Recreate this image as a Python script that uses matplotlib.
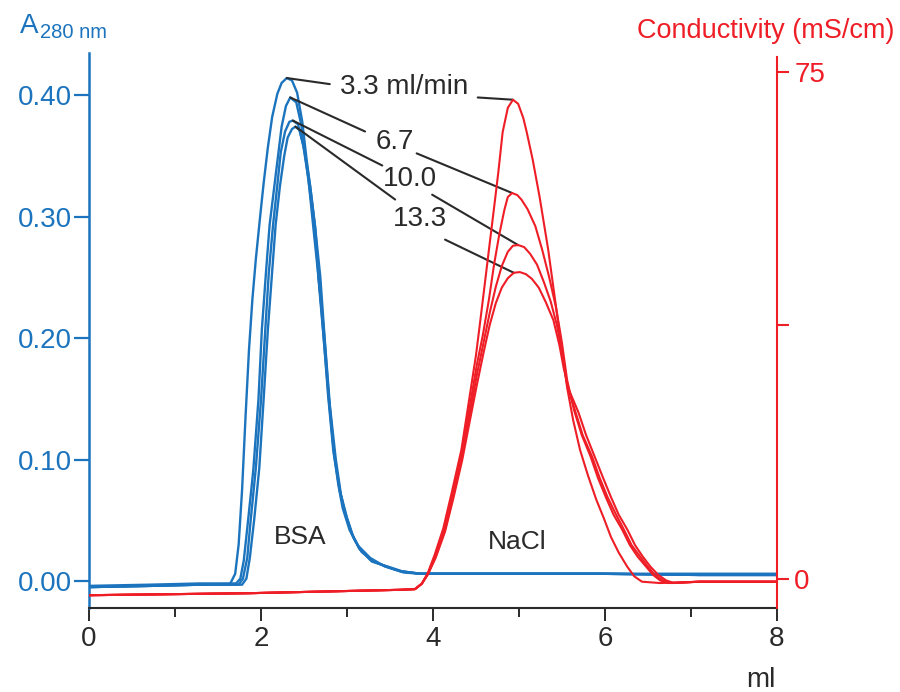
import numpy as np
import matplotlib.pyplot as plt
from matplotlib.ticker import FixedLocator

plt.rcParams['font.family'] = ['Liberation Sans', 'DejaVu Sans']

blue = "#1b74bd"
red = "#ee1d26"
dark = "#2a2a2a"

# ---- BSA absorbance, A280 (left axis), one run per flow rate ----
bsa_x_33 = [0, 0.71, 1.29, 1.58, 1.64, 1.70, 1.74, 1.78, 1.82, 1.86, 1.90, 1.94, 1.99, 2.03,
            2.08, 2.13, 2.19, 2.24, 2.30, 2.36, 2.42, 2.48, 2.53, 2.58, 2.63, 2.67, 2.72, 2.78,
            2.84, 2.90, 2.95, 3.03, 3.13, 3.27, 3.44, 3.62, 3.85, 4.78, 5.94, 7.10, 8.0]
bsa_y_33 = [-0.005, -0.004, -0.003, -0.0025, -0.0025, 0.006, 0.030, 0.075, 0.135, 0.190, 0.232,
            0.265, 0.300, 0.327, 0.357, 0.382, 0.401, 0.410, 0.414, 0.412, 0.402, 0.378, 0.347,
            0.320, 0.291, 0.252, 0.209, 0.153, 0.108, 0.079, 0.060, 0.042, 0.029, 0.019, 0.012,
            0.008, 0.006, 0.006, 0.006, 0.005, 0.005]

bsa_x_67 = [0, 0.71, 1.29, 1.64, 1.71, 1.76, 1.80, 1.85, 1.91, 1.97, 2.01, 2.06, 2.10, 2.15,
            2.20, 2.24, 2.29, 2.34, 2.41, 2.47, 2.52, 2.57, 2.63, 2.67, 2.73, 2.79, 2.85, 2.91,
            2.97, 3.05, 3.14, 3.28, 3.45, 3.63, 3.85, 4.78, 5.94, 7.10, 8.0]
bsa_y_67 = [-0.004, -0.003, -0.002, -0.002, -0.002, 0.002, 0.017, 0.050, 0.091, 0.149, 0.207,
            0.256, 0.293, 0.322, 0.351, 0.374, 0.391, 0.398, 0.394, 0.375, 0.347, 0.320, 0.287,
            0.249, 0.207, 0.151, 0.106, 0.077, 0.058, 0.040, 0.027, 0.017, 0.012, 0.008, 0.006,
            0.006, 0.006, 0.006, 0.006]

bsa_x_100 = [0, 0.71, 1.29, 1.64, 1.74, 1.79, 1.84, 1.88, 1.94, 2.00, 2.05, 2.09, 2.14, 2.19,
             2.23, 2.28, 2.33, 2.37, 2.43, 2.49, 2.55, 2.60, 2.66, 2.72, 2.79, 2.85, 2.92, 2.98,
             3.06, 3.15, 3.29, 3.47, 3.64, 3.85, 4.78, 5.94, 7.10, 8.0]
bsa_y_100 = [-0.005, -0.004, -0.003, -0.003, -0.003, 0.002, 0.019, 0.050, 0.093, 0.149, 0.207,
             0.253, 0.293, 0.326, 0.353, 0.370, 0.378, 0.379, 0.376, 0.359, 0.332, 0.297, 0.256,
             0.207, 0.149, 0.104, 0.073, 0.055, 0.038, 0.026, 0.016, 0.012, 0.008, 0.006, 0.006,
             0.006, 0.005, 0.005]

bsa_x_133 = [0, 0.71, 1.29, 1.64, 1.78, 1.83, 1.87, 1.92, 1.98, 2.03, 2.08, 2.13, 2.17, 2.22,
             2.27, 2.31, 2.36, 2.40, 2.45, 2.51, 2.57, 2.63, 2.69, 2.74, 2.80, 2.87, 2.93, 3.00,
             3.08, 3.17, 3.31, 3.49, 3.66, 3.85, 4.78, 5.94, 7.10, 8.0]
bsa_y_133 = [-0.005, -0.004, -0.003, -0.003, -0.003, 0.002, 0.019, 0.050, 0.093, 0.149, 0.207,
             0.255, 0.293, 0.325, 0.350, 0.365, 0.372, 0.374, 0.371, 0.353, 0.326, 0.291, 0.250,
             0.200, 0.145, 0.100, 0.071, 0.052, 0.035, 0.024, 0.016, 0.011, 0.007, 0.006, 0.006,
             0.006, 0.005, 0.005]

# ---- NaCl conductivity, mS/cm (right axis) ----
nacl_x_33 = [0, 1.87, 3.62, 3.79, 3.87, 3.94, 4.02, 4.12, 4.22, 4.33, 4.42, 4.50, 4.55, 4.60,
             4.66, 4.71, 4.76, 4.81, 4.87, 4.93, 4.99, 5.05, 5.09, 5.16, 5.24, 5.34, 5.44, 5.50,
             5.56, 5.63, 5.71, 5.80, 5.90, 5.98, 6.07, 6.16, 6.26, 6.34, 6.43, 6.64, 7.10, 8.0]
nacl_y_33 = [-2.4, -2.1, -1.6, -1.5, -0.7, 0.9, 3.6, 7.5, 12.9, 19.1, 26.5, 33.1, 38.2, 43.4,
             49.7, 54.9, 60.2, 66.1, 69.7, 70.9, 70.3, 68.2, 66.1, 62.0, 56.5, 48.7, 39.4, 33.9,
             28.3, 23.5, 19.1, 15.4, 11.7, 9.2, 6.2, 3.9, 1.8, 0.4, -0.4, -0.6, -0.4, -0.4]

nacl_x_67 = [0, 1.87, 3.62, 3.79, 3.87, 3.94, 4.03, 4.13, 4.24, 4.34, 4.43, 4.51, 4.58, 4.65,
             4.71, 4.77, 4.83, 4.87, 4.92, 4.98, 5.03, 5.10, 5.19, 5.27, 5.35, 5.43, 5.50, 5.56,
             5.64, 5.73, 5.83, 5.92, 6.01, 6.10, 6.20, 6.29, 6.38, 6.48, 6.56, 6.64, 6.73, 7.10, 8.0]
nacl_y_67 = [-2.4, -2.1, -1.6, -1.5, -0.7, 0.7, 3.4, 7.5, 13.2, 19.1, 25.7, 31.7, 36.1, 41.3,
             46.5, 50.9, 54.6, 56.5, 57.1, 56.8, 56.1, 54.7, 52.2, 48.7, 44.7, 40.2, 34.9, 29.4,
             25.0, 21.3, 18.2, 14.9, 12.1, 9.5, 7.3, 5.0, 3.3, 1.8, 0.6, -0.2, -0.6, -0.4, -0.4]

nacl_x_100 = [0, 1.87, 3.62, 3.79, 3.87, 3.94, 4.03, 4.14, 4.24, 4.34, 4.43, 4.51, 4.59, 4.66,
              4.73, 4.80, 4.87, 4.93, 4.99, 5.06, 5.13, 5.21, 5.29, 5.37, 5.44, 5.50, 5.56, 5.65,
              5.74, 5.85, 5.94, 6.03, 6.13, 6.22, 6.31, 6.41, 6.50, 6.58, 6.67, 6.77, 7.10, 8.0]
nacl_y_100 = [-2.4, -2.1, -1.6, -1.5, -0.7, 0.7, 3.3, 7.3, 12.6, 18.3, 24.6, 30.2, 35.1, 39.4,
              43.2, 46.3, 48.4, 49.3, 49.4, 49.1, 48.1, 46.5, 43.9, 41.0, 37.6, 33.6, 28.7, 25.0,
              21.3, 18.1, 14.9, 12.1, 9.5, 7.3, 5.0, 3.3, 1.8, 0.6, -0.2, -0.6, -0.4, -0.4]

nacl_x_133 = [0, 1.87, 3.62, 3.79, 3.87, 3.94, 4.03, 4.14, 4.24, 4.34, 4.43, 4.51, 4.59, 4.66,
              4.73, 4.80, 4.87, 4.94, 5.01, 5.08, 5.15, 5.23, 5.31, 5.40, 5.47, 5.52, 5.58, 5.69,
              5.78, 5.88, 5.98, 6.07, 6.16, 6.26, 6.35, 6.44, 6.53, 6.62, 6.71, 6.80, 7.10, 8.0]
nacl_y_133 = [-2.4, -2.1, -1.6, -1.5, -0.7, 0.7, 3.1, 7.0, 12.1, 17.6, 23.5, 28.7, 33.6, 37.6,
              40.8, 43.1, 44.5, 45.3, 45.4, 45.1, 44.4, 43.1, 41.0, 38.3, 34.6, 31.2, 28.0, 24.7,
              21.3, 18.1, 14.9, 12.1, 9.5, 7.3, 5.0, 3.3, 1.8, 0.6, -0.2, -0.6, -0.4, -0.4]

flow_labels = ["3.3 ml/min", "6.7", "10.0", "13.3"]
bsa_runs = [(bsa_x_33, bsa_y_33), (bsa_x_67, bsa_y_67), (bsa_x_100, bsa_y_100), (bsa_x_133, bsa_y_133)]
nacl_runs = [(nacl_x_33, nacl_y_33), (nacl_x_67, nacl_y_67), (nacl_x_100, nacl_y_100), (nacl_x_133, nacl_y_133)]

a280_ticks = [0.0, 0.1, 0.2, 0.3, 0.4]
a280_labels = ["0.00", "0.10", "0.20", "0.30", "0.40"]
cond_ticks = [0, 37.5, 75]
cond_labels = ["0", "", "75"]
ml_ticks = [0, 2, 4, 6, 8]

fig = plt.figure(figsize=(9, 6.92), dpi=100)
ax = fig.add_axes([0.0989, 0.1214, 0.7644, 0.802])
ax2 = ax.twinx()

for xs, ys in bsa_runs:
    ax.plot(xs, ys, color=blue, lw=1.7, solid_joinstyle='round')
for xs, ys in nacl_runs:
    ax2.plot(xs, ys, color=red, lw=1.5, solid_joinstyle='round')

ax.set_xlim(0, 8)
ax.set_ylim(-0.0222, 0.4346)
ax2.set_ylim(-4.29, 77.81)

# spines
for s in ["top"]:
    ax.spines[s].set_visible(False)
    ax2.spines[s].set_visible(False)
ax2.spines["left"].set_visible(False)
ax2.spines["bottom"].set_visible(False)
ax.spines["right"].set_visible(False)
ax.spines["left"].set_color(blue)
ax.spines["left"].set_linewidth(1.8)
ax.spines["bottom"].set_color(dark)
ax.spines["bottom"].set_linewidth(1.5)
ax2.spines["right"].set_color(red)
ax2.spines["right"].set_linewidth(1.5)
ax2.spines["right"].set_bounds(-4.29, 77.2)

ax.set_yticks(a280_ticks)
ax.set_yticklabels(a280_labels)
ax.set_xticks(ml_ticks)
ax.set_xticklabels([str(v) for v in ml_ticks])
ax.xaxis.set_minor_locator(FixedLocator([1, 3, 5, 7]))
ax2.set_yticks(cond_ticks)
ax2.set_yticklabels(cond_labels)

ax.tick_params(axis='y', colors=blue, length=11, width=1.6, pad=1, labelsize=20)
ax.tick_params(axis='x', which='major', colors=dark, length=9, width=1.4, pad=4, labelsize=20)
ax.tick_params(axis='x', which='minor', colors=dark, length=6.5, width=1.4)
ax2.tick_params(axis='y', colors=red, length=8.5, width=1.5, pad=4, labelsize=20)

# axis titles
fig.text(0.022, 0.952, "A", color=blue, fontsize=20, va='baseline', ha='left')
fig.text(0.044, 0.945, "280 nm", color=blue, fontsize=14.5, va='baseline', ha='left')
fig.text(0.994, 0.945, "Conductivity (mS/cm)", color=red, fontsize=19.5, va='baseline', ha='right')
fig.text(0.862, 0.007, "ml", color=dark, fontsize=20, va='baseline', ha='right')

# peak labels
ax.text(2.45, 0.036, "BSA", color=dark, fontsize=19, ha='center', va='center')
ax.text(4.98, 0.032, "NaCl", color=dark, fontsize=19, ha='center', va='center')

label_pos = [(3.66, 0.407), (3.56, 0.361), (3.73, 0.331), (3.85, 0.298)]
left_end = [(2.80, 0.409), (3.21, 0.370), (3.41, 0.342), (3.56, 0.314)]
right_end = [(4.52, 0.398), (3.81, 0.352), (3.99, 0.318), (4.14, 0.281)]

for i, (xs, ys) in enumerate(bsa_runs):
    k = int(np.argmax(ys))
    ax.annotate("", xy=(xs[k], ys[k]), xytext=left_end[i],
                arrowprops=dict(arrowstyle='-', color=dark, lw=1.5, shrinkA=0, shrinkB=0))
for i, (xs, ys) in enumerate(nacl_runs):
    k = int(np.argmax(ys))
    px = xs[k - 1] if i == 3 else xs[k]
    py = ys[k - 1] if i == 3 else ys[k]
    ax.annotate("", xy=(px, py), xycoords=ax2.transData, xytext=right_end[i],
                textcoords=ax.transData,
                arrowprops=dict(arrowstyle='-', color=dark, lw=1.5, shrinkA=0, shrinkB=0))
for i, lab in enumerate(flow_labels):
    ax.text(label_pos[i][0], label_pos[i][1], lab, color=dark, fontsize=20,
            ha='center', va='center')

fig.savefig("out.png", dpi=100)
